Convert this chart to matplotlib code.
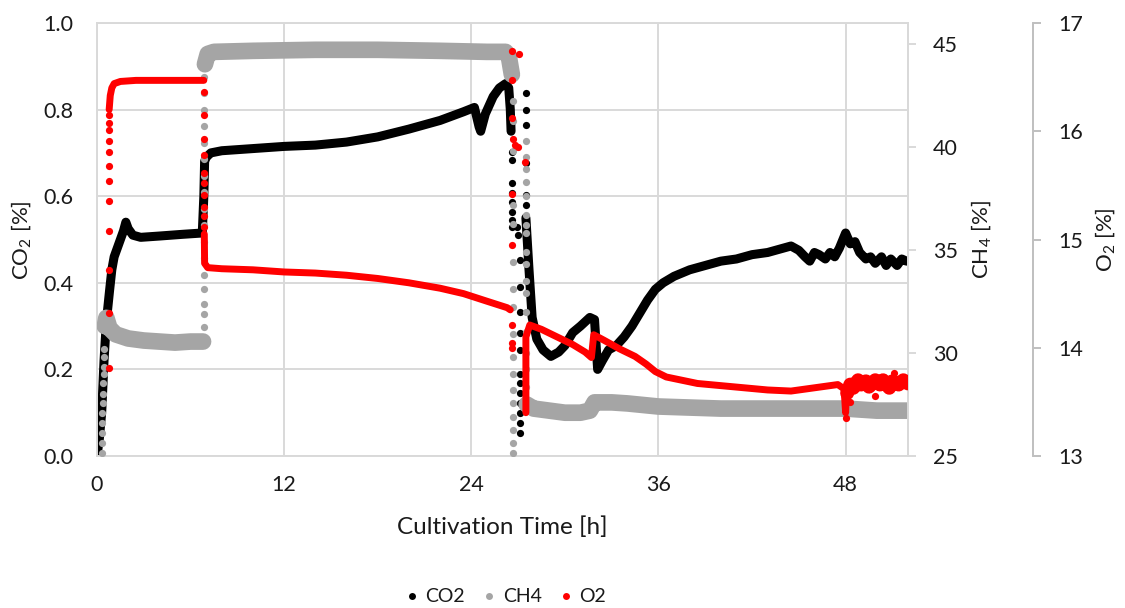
import matplotlib.pyplot as plt
from matplotlib.lines import Line2D

# ---- data (hours, %) ----
# CO2: first run up to the harvest, then the run after the restart
co2_time_a = [0.0, 0.15, 0.3, 0.45, 0.6, 0.8, 0.95, 1.1, 1.3, 1.5, 1.7, 1.85, 2.0, 2.3,
              2.8, 4.0, 5.5, 6.75, 6.85, 6.9, 7.0, 7.3, 8.0, 10.0, 12.0, 14.0, 16.0,
              18.0, 20.0, 22.0, 23.5, 24.2, 24.5, 24.6, 24.9, 25.4, 25.8, 26.2, 26.4,
              26.5, 26.55]
co2_vals_a = [0.0, 0.04, 0.10, 0.22, 0.31, 0.38, 0.43, 0.46, 0.48, 0.50, 0.52, 0.54,
              0.525, 0.51, 0.505, 0.508, 0.512, 0.515, 0.60, 0.68, 0.69, 0.70, 0.705,
              0.71, 0.715, 0.718, 0.725, 0.737, 0.755, 0.775, 0.795, 0.805, 0.76, 0.75,
              0.79, 0.83, 0.85, 0.86, 0.85, 0.80, 0.75]
co2_time_b = [27.5, 27.7, 27.9, 28.2, 28.6, 29.1, 29.6, 30.0, 30.5, 31.0, 31.6, 31.9,
              32.1, 32.4, 32.8, 33.3, 33.8, 34.3, 34.8, 35.3, 35.8, 36.3, 37.0, 38.0,
              39.0, 40.0, 41.0, 42.0, 43.0, 44.0, 44.5, 45.0, 45.4, 45.7, 46.0, 46.3,
              46.7, 47.0, 47.3, 47.6, 48.0, 48.3, 48.6, 48.9, 49.3, 49.6, 49.9, 50.3,
              50.6, 50.9, 51.3, 51.6, 51.9]
co2_vals_b = [0.55, 0.43, 0.32, 0.27, 0.245, 0.23, 0.24, 0.255, 0.285, 0.30, 0.32,
              0.315, 0.20, 0.22, 0.245, 0.255, 0.275, 0.30, 0.33, 0.36, 0.385, 0.40,
              0.415, 0.43, 0.44, 0.45, 0.455, 0.465, 0.47, 0.48, 0.485, 0.475, 0.46,
              0.45, 0.47, 0.465, 0.455, 0.47, 0.46, 0.48, 0.515, 0.49, 0.495, 0.47,
              0.455, 0.46, 0.445, 0.46, 0.44, 0.455, 0.44, 0.455, 0.45]
co2_dot_time = [26.6] * 8 + [27.1] * 12 + [27.5] * 6 + [26.9, 27.0]
co2_dot_vals = [0.703, 0.684, 0.63, 0.607, 0.587, 0.564, 0.545, 0.53,
                0.453, 0.39, 0.333, 0.283, 0.245, 0.19, 0.168, 0.145, 0.122, 0.099,
                0.076, 0.053,
                0.838, 0.80, 0.764, 0.676, 0.603, 0.58,
                0.53, 0.51]

# CH4
ch4_time_a = [0.5, 0.6, 0.8, 1.2, 2.0, 3.0, 4.0, 5.0, 6.0, 6.8]
ch4_vals_a = [31.3, 31.7, 31.2, 30.9, 30.7, 30.6, 30.55, 30.5, 30.55, 30.55]
ch4_time_b = [6.92, 7.1, 7.5, 10.0, 14.0, 18.0, 22.0, 25.0, 26.2, 26.4, 26.6]
ch4_vals_b = [44.0, 44.5, 44.6, 44.65, 44.7, 44.7, 44.65, 44.6, 44.6, 44.4, 43.5]
ch4_time_c = [27.55, 28.0, 29.0, 30.0, 31.0, 31.6, 31.9, 33.0, 34.0, 36.0, 38.0, 40.0,
              42.0, 44.0, 46.0, 48.0, 50.0, 52.0]
ch4_vals_c = [27.5, 27.3, 27.2, 27.1, 27.1, 27.2, 27.6, 27.6, 27.55, 27.4, 27.35, 27.3,
              27.3, 27.3, 27.3, 27.3, 27.2, 27.2]
ch4_dot_time = ([0.30, 0.31, 0.32, 0.33, 0.34, 0.36, 0.38, 0.40, 0.42, 0.43, 0.45, 0.47]
                + [6.88] * 17 + [26.65] * 17 + [27.5] * 17)
ch4_dot_vals = ([25.13, 25.61, 26.1, 26.58, 27.07, 27.55, 28.03, 28.52, 29.0, 29.32,
                 29.81, 30.21]
                + [31.26, 31.9, 32.36, 33.1, 33.8, 34.6, 35.4, 36.2, 37.0, 37.8, 38.6,
                   39.4, 40.2, 41.0, 41.8, 42.6, 43.4]
                + [42.23, 41.26, 39.81, 37.15, 36.26, 34.41, 33.12, 32.23, 30.94, 29.81,
                   29.0, 28.19, 27.55, 26.9, 26.26, 25.61, 25.13]
                + [40.3, 39.5, 38.9, 38.3, 37.6, 36.7, 36.2, 35.8, 34.9, 34.3, 33.5,
                   32.9, 32.0, 31.0, 30.0, 29.2, 28.35])

# O2
o2_time_a = [0.78, 0.85, 0.95, 1.1, 1.5, 2.5, 4.0, 6.85]
o2_vals_a = [16.2, 16.33, 16.4, 16.44, 16.46, 16.47, 16.47, 16.47]
o2_time_b = [6.88, 6.9, 7.1, 8.0, 10.0, 12.0, 14.0, 16.0, 18.0, 20.0, 22.0, 23.5, 25.0,
             26.3, 26.5]
o2_vals_b = [15.05, 14.78, 14.74, 14.73, 14.72, 14.70, 14.69, 14.67, 14.64, 14.60,
             14.55, 14.50, 14.43, 14.37, 14.35]
o2_time_c = [27.5, 27.5, 27.75, 28.5, 29.5, 30.5, 31.3, 31.7, 31.85, 32.5, 33.5, 34.5,
             35.2, 35.8, 36.5, 37.5, 38.5, 40.0, 41.5, 43.0, 44.5, 45.5, 46.5, 47.5,
             47.9, 48.0, 48.05]
o2_vals_c = [13.40, 14.10, 14.21, 14.17, 14.10, 14.03, 13.96, 13.91, 14.12, 14.07,
             13.99, 13.92, 13.85, 13.78, 13.73, 13.70, 13.67, 13.65, 13.63, 13.61,
             13.60, 13.62, 13.64, 13.66, 13.62, 13.40, 13.58]
# noisy tail after 48 h (drawn as a wider band)
o2_time_d = [48.1, 48.3, 48.5, 48.8, 49.0, 49.3, 49.5, 49.9, 50.2, 50.4, 50.8, 51.0,
             51.4, 51.7, 52.0]
o2_vals_d = [13.58, 13.66, 13.63, 13.70, 13.66, 13.69, 13.64, 13.70, 13.66, 13.70,
             13.63, 13.69, 13.66, 13.70, 13.67]
o2_dot_time = [0.77] * 12 + [6.88] * 10 + [26.6, 27.05, 26.6, 26.6, 26.7, 26.8, 27.0,
                                           27.45, 26.6, 26.6, 26.6, 26.6, 26.62,
                                           48.05, 48.3, 49.9, 51.1]
o2_dot_vals = ([13.81, 14.32, 14.72, 15.08, 15.36, 15.54, 15.68, 15.81, 15.91, 16.01,
                16.08, 16.15]
               + [16.36, 16.15, 15.93, 15.78, 15.61, 15.52, 15.41, 15.30, 15.22, 15.12]
               + [16.74, 16.71, 16.47, 16.12, 15.93, 15.87, 15.85, 15.72, 15.42, 14.95,
                  14.21, 14.04, 14.0, 13.35, 13.50, 13.55, 13.77])

x_ticks = [0, 12, 24, 36, 48]
co2_ticks = [0.0, 0.2, 0.4, 0.6, 0.8, 1.0]
ch4_ticks = [25, 30, 35, 40, 45]
o2_ticks = [13, 14, 15, 16, 17]

BLACK = "#000000"
GRAY = "#a5a5a5"
RED = "#ff0000"
AXIS = "#d9d9d9"
TEXT = "#1a1a1a"

plt.rcParams["font.family"] = ["Lato", "DejaVu Sans"]
plt.rcParams["mathtext.fontset"] = "custom"
plt.rcParams["mathtext.rm"] = "Lato"
plt.rcParams["font.size"] = 15.5
plt.rcParams["text.color"] = TEXT


def draw_series(ax, segments, dots_t, dots_v, color):
    for t, v, lw in segments:
        ax.plot(t, v, color=color, linewidth=lw, solid_capstyle="round",
                solid_joinstyle="round")
    ax.plot(dots_t, dots_v, "o", color=color, markersize=5.2, markeredgewidth=0)


fig = plt.figure(figsize=(11.25, 6.08), dpi=100)
ax = fig.add_axes([97 / 1125, 1 - 456 / 608, 811 / 1125, 433 / 608])
ax2 = ax.twinx()
ax3 = ax.twinx()

draw_series(ax, [(co2_time_a, co2_vals_a, 6.5), (co2_time_b, co2_vals_b, 6.5)],
            co2_dot_time, co2_dot_vals, BLACK)
draw_series(ax2, [(ch4_time_a, ch4_vals_a, 12), (ch4_time_b, ch4_vals_b, 12),
                  (ch4_time_c, ch4_vals_c, 12)],
            ch4_dot_time, ch4_dot_vals, GRAY)
draw_series(ax3, [(o2_time_a, o2_vals_a, 5), (o2_time_b, o2_vals_b, 5),
                  (o2_time_c, o2_vals_c, 5), (o2_time_d, o2_vals_d, 10)],
            o2_dot_time, o2_dot_vals, RED)

# primary axis
ax.set_xlim(0, 52)
ax.set_ylim(0, 1.0)
ax.set_xticks(x_ticks)
ax.set_yticks(co2_ticks)
ax.set_yticklabels([f"{v:.1f}" for v in co2_ticks])
ax.grid(True, color=AXIS, linewidth=1.4)
ax.set_axisbelow(True)
for s in ax.spines.values():
    s.set_color(AXIS)
    s.set_linewidth(1.4)
ax.tick_params(axis="y", length=0, pad=17, colors=TEXT)
ax.tick_params(axis="x", length=0, pad=14, colors=TEXT)

# CH4 axis
ax2.set_ylim(25, 46)
ax2.set_yticks(ch4_ticks)
for name in ["left", "top", "bottom"]:
    ax2.spines[name].set_visible(False)
ax2.spines["right"].set_color(AXIS)
ax2.spines["right"].set_linewidth(1.4)
ax2.tick_params(axis="y", direction="out", length=6, width=1.4, color=AXIS,
                pad=12, labelcolor=TEXT)

# O2 axis
ax3.set_ylim(13, 17)
ax3.set_yticks(o2_ticks)
for name in ["left", "top", "bottom"]:
    ax3.spines[name].set_visible(False)
ax3.spines["right"].set_position(("axes", (1033 - 97) / 811))
ax3.spines["right"].set_color("#bfbfbf")
ax3.spines["right"].set_linewidth(1.4)
ax3.tick_params(axis="y", direction="out", length=6, width=1.4, color="#bfbfbf",
                pad=12, labelcolor=TEXT)

# axis titles
fig.text(22 / 1125, 1 - 240 / 608, r"CO$_2$ [%]", rotation=90, ha="center",
         va="center", fontsize=16)
fig.text(982 / 1125, 1 - 240 / 608, r"CH$_4$ [%]", rotation=90, ha="center",
         va="center", fontsize=16)
fig.text(1106 / 1125, 1 - 240 / 608, r"O$_2$ [%]", rotation=90, ha="center",
         va="center", fontsize=16)
fig.text(502 / 1125, 1 - 527 / 608, "Cultivation Time [h]", ha="center",
         va="center", fontsize=17.5)

handles = [Line2D([], [], marker="o", linestyle="none", color=c, markersize=5,
                  markeredgewidth=0) for c in (BLACK, GRAY, RED)]
fig.legend(handles, ["CO2", "CH4", "O2"], loc="center",
           bbox_to_anchor=(505 / 1125, 1 - 597 / 608), ncol=3, frameon=False,
           handlelength=0.8, handletextpad=0.3, columnspacing=0.85, fontsize=14)

fig.savefig("out.png", dpi=100)
